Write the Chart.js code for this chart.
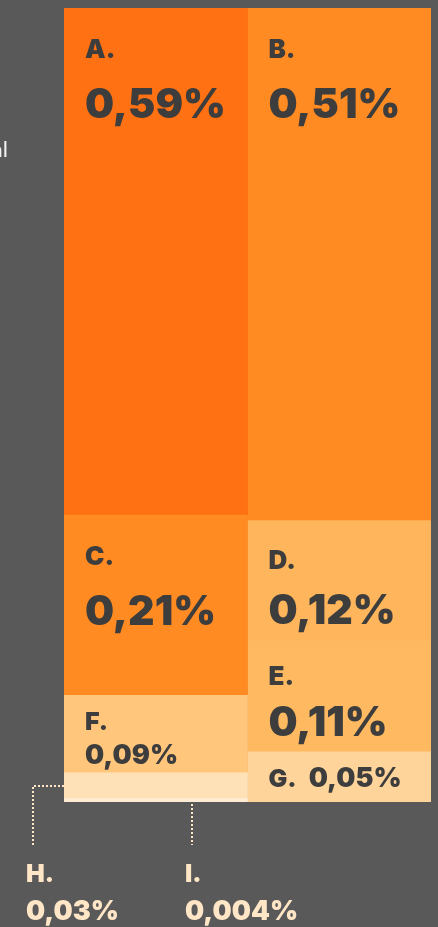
<!DOCTYPE html>
<html>
<head>
<meta charset="utf-8">
<script src="https://cdn.jsdelivr.net/npm/chart.js"></script>
<style>
  html, body { margin: 0; padding: 0; background: #595959; }
  #wrap { position: relative; width: 438px; height: 927px; }
</style>
</head>
<body>
<div id="wrap"><canvas id="myChart"></canvas></div>
<script>
// two columns of stacked blocks, top to bottom
const columns = ['links', 'rechts'];
const leftLetters = ['A.', 'C.', 'F.', 'H.', 'I.'];
const leftValues = [0.59, 0.21, 0.09, 0.03, 0.004];
const rightLetters = ['B.', 'D.', 'E.', 'G.'];
const rightValues = [0.51, 0.12, 0.11, 0.05];
const leftColors = ['#ff7112', '#ff8b22', '#ffc67c', '#ffe1b8', '#ffecd5'];
const rightColors = ['#ff8b22', '#ffb55b', '#ffba61', '#ffd49b'];

const dark = '#3d3d3d';
const cream = '#ffe6c6';
const sum = arr => arr.reduce((a, b) => a + b, 0);
const pct = v => String(v).replace('.', ',') + '%';

// chart.js stacks bottom-up, so the top block is pushed last
var datasets = [];
for (let i = leftValues.length - 1; i >= 0; i--) {
    datasets.push({label: leftLetters[i], data: [leftValues[i], null], backgroundColor: leftColors[i], yAxisID: 'yL'});
}
for (let i = rightValues.length - 1; i >= 0; i--) {
    datasets.push({label: rightLetters[i], data: [null, rightValues[i]], backgroundColor: rightColors[i], yAxisID: 'yR'});
}

const blockLabels = {
    id: 'blockLabels',
    afterDatasetsDraw(chart) {
        const ctx = chart.ctx;
        ctx.save();
        ctx.textBaseline = 'alphabetic';

        // tail end of the intro text sitting left of the chart
        ctx.fillStyle = '#f2f2f2';
        ctx.font = '22px Lato';
        ctx.textAlign = 'right';
        ctx.fillText('al', 8, 157);
        ctx.textAlign = 'left';

        var small = [];
        chart.data.datasets.forEach((ds, i) => {
            const col = ds.yAxisID === 'yL' ? 0 : 1;
            const bar = chart.getDatasetMeta(i).data[col];
            const v = ds.data[col];
            const left = bar.x - bar.width / 2;
            const top = bar.y;
            const h = bar.base - bar.y;
            if (h < 40) {
                small.push({ds: ds, v: v, bar: bar, left: left, top: top, h: h});
                return;
            }
            const x = left + 21;
            ctx.fillStyle = dark;
            if (v >= 0.1) {
                ctx.font = '900 26px Inter';
                ctx.fillText(ds.label, x, top + Math.min(50, h * 0.4));
                ctx.font = '900 41px Inter';
                ctx.fillText(pct(v), x, top + Math.min(110, h * 0.86));
            } else if (h >= 70) {
                ctx.font = '900 25px Inter';
                ctx.fillText(ds.label, x, top + Math.min(40, h * 0.45));
                ctx.font = '900 27px Inter';
                ctx.fillText(pct(v), x, top + Math.min(84, h * 0.88));
            } else {
                // too short for two lines
                const y = top + h / 2 + 10;
                ctx.font = '900 25px Inter';
                ctx.fillText(ds.label, x, y);
                const w = ctx.measureText(ds.label).width;
                ctx.font = '900 27px Inter';
                ctx.fillText(pct(v), x + w + 12, y);
            }
        });

        // thin blocks get their labels underneath, with dotted leaders
        small.sort((a, b) => a.top - b.top);
        ctx.strokeStyle = cream;
        ctx.lineWidth = 2;
        ctx.setLineDash([2, 2]);
        const leaderEnd = 845;
        small.forEach((s, k) => {
            let lx;
            ctx.beginPath();
            if (k === 0) {
                lx = s.left - 31;
                const my = Math.round(s.top + s.h / 2);
                ctx.moveTo(s.left, my);
                ctx.lineTo(lx, my);
                ctx.lineTo(lx, leaderEnd);
            } else {
                lx = s.left + 128;
                ctx.moveTo(lx, s.bar.base + 2);
                ctx.lineTo(lx, leaderEnd);
            }
            ctx.stroke();
            ctx.fillStyle = cream;
            ctx.font = '900 25px Inter';
            ctx.fillText(s.ds.label, lx - 7, 882);
            ctx.font = '900 27px Inter';
            ctx.fillText(pct(s.v), lx - 7, 920);
        });
        ctx.restore();
    }
};

const ctx = document.getElementById('myChart');
var myChart = new Chart(ctx, {
    type: 'bar',
    data: {labels: columns, datasets: datasets},
    options: {
        responsive: true,
        maintainAspectRatio: false,
        animation: false,
        layout: {padding: {left: 64, right: 7, top: 8, bottom: 125}},
        datasets: {bar: {categoryPercentage: 1, barPercentage: 1, borderWidth: 0}},
        plugins: {legend: {display: false}, tooltip: {enabled: false}},
        scales: {
            x: {stacked: true, display: false},
            yL: {stacked: true, display: false, min: 0, max: sum(leftValues)},
            yR: {stacked: true, display: false, min: 0, max: sum(rightValues)}
        }
    },
    plugins: [blockLabels]
});
</script>
</body>
</html>
